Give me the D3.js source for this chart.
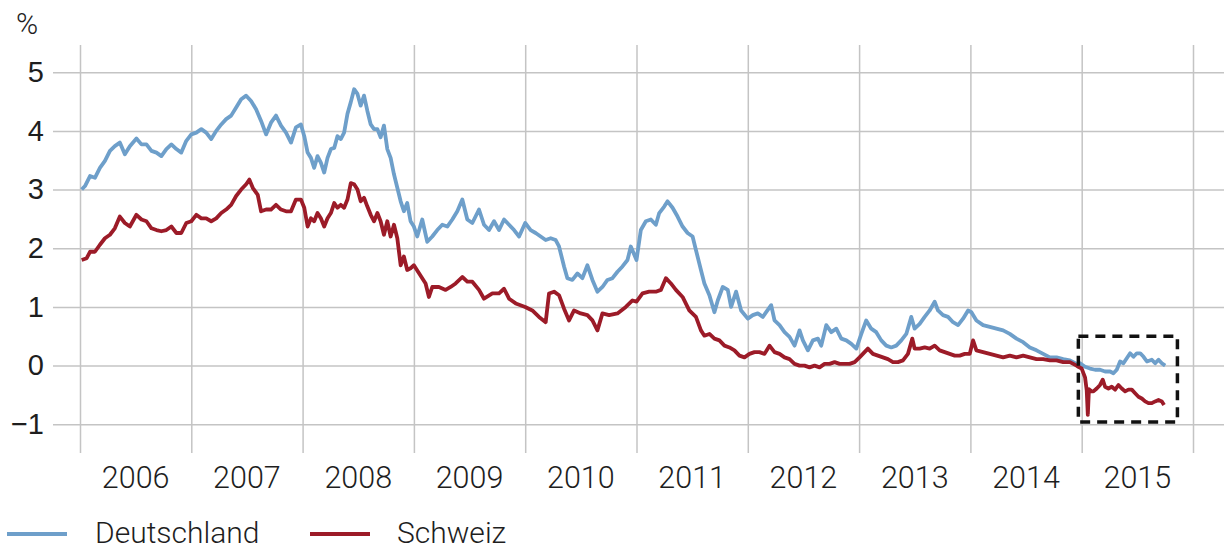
<!DOCTYPE html>
<html>
<head>
<meta charset="utf-8">
<script src="https://cdn.jsdelivr.net/npm/d3@7"></script>
<style>
  html, body { margin: 0; padding: 0; background: #fff; }
  svg { display: block; font-family: "Roboto", "Liberation Sans", sans-serif; }
</style>
</head>
<body>
<svg id="chart" width="1224" height="551"></svg>
<script>
// Rendite 10-jähriger Staatsanleihen, in Prozent (Jahr als Dezimalzahl, Wert)
const deutschland = [
  [2006.015,3.0],[2006.045,3.06],[2006.09,3.23],[2006.134,3.2],[2006.179,3.37],[2006.224,3.49],[2006.269,3.66],[2006.313,3.74],
  [2006.358,3.8],[2006.403,3.6],[2006.448,3.74],[2006.507,3.87],[2006.552,3.77],[2006.597,3.77],[2006.642,3.66],[2006.687,3.63],
  [2006.731,3.57],[2006.776,3.69],[2006.821,3.77],[2006.866,3.69],[2006.91,3.63],[2006.955,3.83],[2007.0,3.94],[2007.045,3.97],
  [2007.09,4.03],[2007.134,3.97],[2007.179,3.86],[2007.224,4.0],[2007.269,4.11],[2007.313,4.2],[2007.358,4.26],[2007.403,4.4],
  [2007.448,4.54],[2007.493,4.6],[2007.537,4.51],[2007.582,4.37],[2007.627,4.17],[2007.672,3.94],[2007.716,4.14],[2007.761,4.26],
  [2007.806,4.09],[2007.851,3.97],[2007.896,3.8],[2007.94,4.06],[2007.985,4.11],[2008.015,3.91],[2008.045,3.63],[2008.075,3.54],
  [2008.104,3.37],[2008.134,3.57],[2008.164,3.46],[2008.194,3.29],[2008.224,3.54],[2008.254,3.69],[2008.284,3.71],[2008.313,3.91],
  [2008.343,3.86],[2008.373,3.97],[2008.403,4.29],[2008.433,4.49],[2008.463,4.71],[2008.493,4.63],[2008.522,4.43],[2008.552,4.6],
  [2008.582,4.34],[2008.612,4.11],[2008.642,4.03],[2008.672,4.03],[2008.701,3.89],[2008.731,4.09],[2008.761,3.69],[2008.791,3.54],
  [2008.821,3.26],[2008.851,3.03],[2008.881,2.8],[2008.91,2.63],[2008.94,2.77],[2008.97,2.46],[2009.0,2.37],[2009.03,2.2],
  [2009.075,2.49],[2009.12,2.11],[2009.165,2.2],[2009.21,2.31],[2009.255,2.4],[2009.3,2.37],[2009.345,2.49],[2009.39,2.63],
  [2009.435,2.83],[2009.48,2.49],[2009.525,2.43],[2009.585,2.66],[2009.63,2.4],[2009.675,2.31],[2009.72,2.46],[2009.765,2.31],
  [2009.81,2.49],[2009.855,2.4],[2009.9,2.31],[2009.945,2.2],[2010.0,2.43],[2010.049,2.31],[2010.094,2.26],[2010.139,2.2],
  [2010.184,2.14],[2010.229,2.17],[2010.274,2.14],[2010.304,2.03],[2010.349,1.69],[2010.379,1.49],[2010.424,1.46],[2010.469,1.57],
  [2010.514,1.49],[2010.559,1.71],[2010.604,1.46],[2010.649,1.26],[2010.694,1.34],[2010.739,1.46],[2010.784,1.49],[2010.829,1.6],
  [2010.874,1.69],[2010.919,1.8],[2010.949,2.03],[2011.0,1.8],[2011.039,2.31],[2011.084,2.46],[2011.129,2.49],[2011.174,2.4],
  [2011.204,2.6],[2011.249,2.71],[2011.279,2.8],[2011.324,2.69],[2011.369,2.54],[2011.414,2.37],[2011.459,2.26],[2011.504,2.2],
  [2011.534,1.97],[2011.579,1.63],[2011.61,1.4],[2011.655,1.2],[2011.7,0.91],[2011.73,1.11],[2011.775,1.34],[2011.82,1.29],
  [2011.85,1.0],[2011.895,1.26],[2011.94,0.94],[2012.0,0.8],[2012.045,0.86],[2012.09,0.89],[2012.135,0.83],[2012.165,0.91],
  [2012.21,1.03],[2012.24,0.77],[2012.285,0.69],[2012.33,0.57],[2012.375,0.49],[2012.42,0.34],[2012.465,0.6],[2012.495,0.43],
  [2012.54,0.26],[2012.585,0.43],[2012.63,0.46],[2012.66,0.34],[2012.705,0.69],[2012.75,0.57],[2012.795,0.63],[2012.84,0.46],
  [2012.885,0.43],[2012.93,0.37],[2012.975,0.29],[2013.02,0.54],[2013.064,0.77],[2013.109,0.63],[2013.154,0.57],[2013.199,0.43],
  [2013.244,0.34],[2013.289,0.31],[2013.334,0.34],[2013.379,0.43],[2013.424,0.54],[2013.469,0.83],[2013.499,0.63],[2013.544,0.71],
  [2013.589,0.83],[2013.634,0.94],[2013.679,1.09],[2013.709,0.94],[2013.754,0.86],[2013.799,0.83],[2013.844,0.74],[2013.889,0.69],
  [2013.934,0.8],[2013.979,0.94],[2014.009,0.91],[2014.054,0.77],[2014.114,0.69],[2014.174,0.66],[2014.234,0.63],[2014.294,0.6],
  [2014.354,0.54],[2014.414,0.46],[2014.474,0.4],[2014.534,0.31],[2014.594,0.26],[2014.654,0.2],[2014.714,0.14],[2014.774,0.14],
  [2014.834,0.11],[2014.894,0.09],[2014.954,0.03],[2014.985,0.04],[2015.03,-0.02],[2015.075,-0.05],[2015.12,-0.07],[2015.165,-0.07],
  [2015.21,-0.1],[2015.255,-0.1],[2015.285,-0.13],[2015.315,-0.07],[2015.345,0.07],[2015.375,0.04],[2015.405,0.125],[2015.435,0.21],
  [2015.465,0.15],[2015.495,0.21],[2015.526,0.21],[2015.556,0.15],[2015.586,0.07],[2015.63,0.1],[2015.66,0.04],[2015.69,0.1],
  [2015.72,0.04],[2015.75,0.0]
];

const schweiz = [
  [2006.015,1.8],[2006.06,1.83],[2006.09,1.94],[2006.134,1.94],[2006.179,2.06],[2006.224,2.17],[2006.269,2.23],[2006.313,2.34],
  [2006.358,2.54],[2006.403,2.43],[2006.448,2.37],[2006.507,2.57],[2006.552,2.49],[2006.597,2.46],[2006.642,2.34],[2006.687,2.31],
  [2006.731,2.29],[2006.776,2.31],[2006.821,2.37],[2006.866,2.26],[2006.91,2.26],[2006.955,2.43],[2007.0,2.46],[2007.045,2.57],
  [2007.09,2.51],[2007.134,2.51],[2007.179,2.46],[2007.224,2.51],[2007.269,2.6],[2007.313,2.66],[2007.358,2.74],[2007.403,2.89],
  [2007.448,3.0],[2007.493,3.09],[2007.522,3.17],[2007.552,3.03],[2007.597,2.91],[2007.627,2.63],[2007.672,2.66],[2007.716,2.66],
  [2007.761,2.74],[2007.806,2.66],[2007.851,2.63],[2007.896,2.63],[2007.94,2.83],[2007.985,2.83],[2008.015,2.69],[2008.045,2.37],
  [2008.075,2.51],[2008.104,2.46],[2008.134,2.6],[2008.164,2.51],[2008.194,2.37],[2008.224,2.51],[2008.254,2.6],[2008.284,2.77],
  [2008.313,2.69],[2008.343,2.74],[2008.373,2.69],[2008.403,2.83],[2008.433,3.11],[2008.463,3.09],[2008.493,3.0],[2008.522,2.8],
  [2008.552,2.86],[2008.582,2.71],[2008.612,2.57],[2008.642,2.46],[2008.672,2.6],[2008.701,2.46],[2008.731,2.23],[2008.761,2.46],
  [2008.791,2.2],[2008.821,2.4],[2008.851,2.17],[2008.881,1.71],[2008.91,1.86],[2008.94,1.63],[2008.97,1.66],[2009.0,1.71],
  [2009.105,1.4],[2009.135,1.17],[2009.165,1.34],[2009.225,1.34],[2009.285,1.29],[2009.33,1.34],[2009.375,1.4],[2009.435,1.51],
  [2009.48,1.43],[2009.525,1.43],[2009.585,1.29],[2009.63,1.14],[2009.705,1.23],[2009.765,1.23],[2009.81,1.31],[2009.855,1.14],
  [2009.915,1.06],[2010.0,1.0],[2010.064,0.94],[2010.124,0.83],[2010.184,0.74],[2010.214,1.23],[2010.259,1.26],[2010.304,1.2],
  [2010.349,0.97],[2010.394,0.77],[2010.439,0.94],[2010.499,0.89],[2010.559,0.86],[2010.604,0.77],[2010.649,0.6],[2010.694,0.89],
  [2010.754,0.86],[2010.829,0.89],[2010.904,1.0],[2010.964,1.11],[2011.0,1.09],[2011.054,1.23],[2011.114,1.26],[2011.174,1.26],
  [2011.219,1.29],[2011.264,1.49],[2011.309,1.4],[2011.354,1.29],[2011.414,1.17],[2011.474,0.94],[2011.534,0.83],[2011.579,0.6],
  [2011.61,0.51],[2011.655,0.54],[2011.7,0.46],[2011.745,0.43],[2011.79,0.34],[2011.835,0.31],[2011.88,0.26],[2011.925,0.17],
  [2011.97,0.14],[2012.015,0.2],[2012.06,0.23],[2012.105,0.23],[2012.15,0.2],[2012.195,0.34],[2012.24,0.23],[2012.285,0.2],
  [2012.33,0.14],[2012.375,0.11],[2012.42,0.03],[2012.465,0.0],[2012.51,0.0],[2012.555,-0.03],[2012.6,0.0],[2012.645,-0.03],
  [2012.69,0.03],[2012.735,0.03],[2012.78,0.06],[2012.825,0.03],[2012.87,0.03],[2012.915,0.03],[2012.96,0.06],[2013.004,0.14],
  [2013.049,0.23],[2013.079,0.29],[2013.124,0.2],[2013.169,0.17],[2013.214,0.14],[2013.259,0.11],[2013.304,0.06],[2013.349,0.06],
  [2013.394,0.09],[2013.439,0.2],[2013.478,0.46],[2013.499,0.29],[2013.544,0.29],[2013.589,0.31],[2013.634,0.29],[2013.679,0.34],
  [2013.724,0.26],[2013.769,0.23],[2013.814,0.2],[2013.859,0.17],[2013.904,0.17],[2013.949,0.2],[2013.994,0.2],[2014.024,0.43],
  [2014.054,0.26],[2014.114,0.23],[2014.174,0.2],[2014.234,0.17],[2014.294,0.14],[2014.354,0.17],[2014.414,0.14],[2014.474,0.17],
  [2014.534,0.14],[2014.594,0.11],[2014.654,0.11],[2014.714,0.09],[2014.774,0.09],[2014.834,0.06],[2014.894,0.06],[2014.954,0.0],
  [2014.97,-0.02],[2015.0,-0.05],[2015.03,-0.2],[2015.045,-0.42],[2015.055,-0.84],[2015.065,-0.4],[2015.09,-0.44],[2015.105,-0.44],
  [2015.135,-0.39],[2015.165,-0.33],[2015.189,-0.24],[2015.21,-0.36],[2015.24,-0.39],[2015.27,-0.36],[2015.3,-0.41],[2015.33,-0.33],
  [2015.36,-0.39],[2015.39,-0.44],[2015.42,-0.41],[2015.45,-0.41],[2015.48,-0.47],[2015.51,-0.53],[2015.54,-0.56],[2015.57,-0.61],
  [2015.6,-0.64],[2015.63,-0.64],[2015.66,-0.61],[2015.69,-0.585],[2015.72,-0.61],[2015.74,-0.67]
];

const yearTicks = [2006, 2007, 2008, 2009, 2010, 2011, 2012, 2013, 2014, 2015];
const valueTicks = [-1, 0, 1, 2, 3, 4, 5];
// Hervorgehobener Bereich: [Jahr von, Jahr bis, Wert unten, Wert oben]
const highlight = [2014.97, 2015.86, -0.96, 0.5];

const series = [
  { name: "Deutschland", values: deutschland, color: "#6e9fca" },
  { name: "Schweiz", values: schweiz, color: "#9c1b28" }
];

const svg = d3.select("#chart");
const textColor = "#1e1e1e";
const gridColor = "#c4c4c4";

const x = d3.scaleLinear().domain([2006, 2016]).range([80, 1193]);
const y = d3.scaleLinear().domain([-1, 5]).range([424.3, 72.2]);

// Gitter
const yAxis = d3.axisLeft(y).tickValues(valueTicks).tickSize(-(1224 - 53))
  .tickFormat(d => d < 0 ? "\u2212" + Math.abs(d) : d);
const gy = svg.append("g").attr("transform", "translate(53,0)").call(yAxis);
gy.select(".domain").remove();
gy.selectAll(".tick line").attr("stroke", gridColor).attr("stroke-width", 1.5);
gy.selectAll(".tick text").attr("fill", textColor).attr("font-size", 29)
  .attr("font-weight", 300).attr("x", -9);

const xGridYears = d3.range(2006, 2017);
const xAxis = d3.axisBottom(x).tickValues(xGridYears).tickSize(-(453 - 45)).tickFormat("");
const gx = svg.append("g").attr("transform", "translate(0,453)").call(xAxis);
gx.select(".domain").remove();
gx.selectAll(".tick line").attr("stroke", gridColor).attr("stroke-width", 1.5);

// Jahresbeschriftungen mittig zwischen den Gitterlinien
svg.append("g").selectAll("text").data(yearTicks).join("text")
  .attr("x", d => x(d + 0.5)).attr("y", 488)
  .attr("text-anchor", "middle").attr("fill", textColor)
  .attr("font-size", 30.5).attr("font-weight", 300)
  .text(d => d);

svg.append("text").attr("x", 16).attr("y", 34).attr("fill", textColor)
  .attr("font-size", 30).attr("font-weight", 300).text("%");

// Linien
const line = d3.line().x(d => x(d[0])).y(d => y(d[1]));
svg.append("g").selectAll("path").data(series).join("path")
  .attr("d", d => line(d.values))
  .attr("fill", "none").attr("stroke", d => d.color)
  .attr("stroke-width", 3.8).attr("stroke-linejoin", "round");

// Markierter Bereich
svg.append("rect")
  .attr("x", x(highlight[0])).attr("y", y(highlight[3]))
  .attr("width", x(highlight[1]) - x(highlight[0]))
  .attr("height", y(highlight[2]) - y(highlight[3]))
  .attr("fill", "none").attr("stroke", "#111").attr("stroke-width", 3.5)
  .attr("stroke-dasharray", "10,7");

// Legende
const legendPos = [{ lx: 7, tx: 95 }, { lx: 310, tx: 397 }];
const lg = svg.append("g").selectAll("g").data(series).join("g");
lg.append("line")
  .attr("x1", (d, i) => legendPos[i].lx).attr("x2", (d, i) => legendPos[i].lx + 60)
  .attr("y1", 534).attr("y2", 534)
  .attr("stroke", d => d.color).attr("stroke-width", 3.8);
lg.append("text")
  .attr("x", (d, i) => legendPos[i].tx).attr("y", 543)
  .attr("fill", textColor).attr("font-size", 30).attr("font-weight", 300)
  .text(d => d.name);
</script>
</body>
</html>
